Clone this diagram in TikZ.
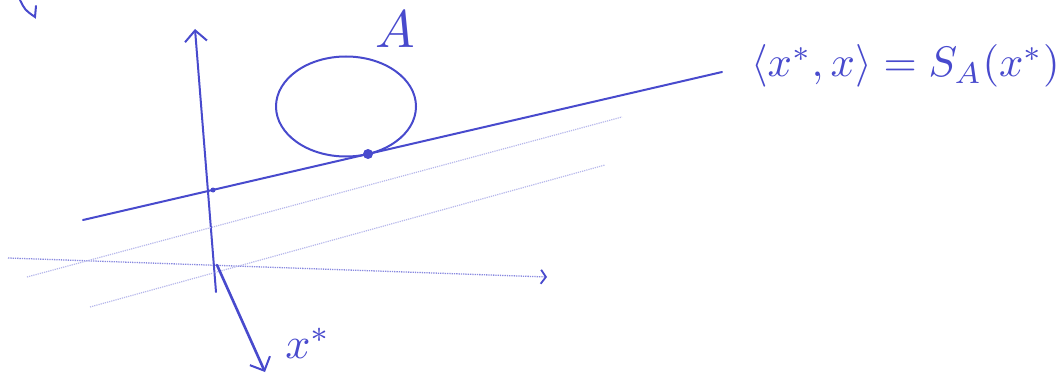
\documentclass[tikz,border=0pt]{standalone}
\usepackage{amsmath, amssymb}
\usetikzlibrary{calc,arrows.meta,positioning}
\definecolor{inkblue}{RGB}{72,74,205}

\begin{document}
\begin{tikzpicture}[x=1pt, y=-1pt, every node/.style={text=inkblue, scale=4.4},
    ink/.style={inkblue, line width=2pt, line cap=round},
    faint/.style={inkblue!40, densely dotted, line width=1.2pt},
    barb/.style={-{Straight Barb[length=11pt, width=22pt, line width=2pt]}}]
        \useasboundingbox (0,0) rectangle (1062,377);
        \coordinate (O) at (217,265);
        \coordinate (ytop) at (195,29);
        \coordinate (ybot) at (216,292);
        \coordinate (xl) at (8,258);
        \coordinate (xr) at (547,277);
        \coordinate (tl) at (83,220);
        \coordinate (tr) at (722,72);
        \coordinate (P) at (368,154);
        \coordinate (Q) at (213,190);
        \coordinate (xs) at (265,372);
        % axes
        \draw[inkblue!65, densely dotted, line width=1.3pt,
          -{Straight Barb[length=5pt, width=14pt, color=inkblue, line width=1.8pt]}] (xl) -- (xr);
        \draw[ink, barb] (ybot) -- (ytop);
        % parallel level lines
        \draw[faint] (90,307) -- (605,165);
        \draw[faint] (27,277) -- (622,117);
        % supporting line and the set
        \draw[ink] (tl) -- (tr);
        \draw[ink] (346,106.5) ellipse (70 and 50);
        \fill[inkblue] (P) circle (5);
        \fill[inkblue] (Q) circle (2.5);
        \draw[ink, line width=2.6pt, barb] (O) -- (xs);
        % stray stroke at the top
        \draw[ink] (20,0) .. controls (25,10) .. (35,17) -- (36,6);
        \node[scale=1.2] (setA) at (395,29) {$A$};
        \node (xstar) at (308,343) {$x^{*}$};
        \node[anchor=base west, scale=0.97] (supp) at (736,77) {$\langle x^{*}, x\rangle = S_A(x^{*})$};
      \end{tikzpicture}
\end{document}
